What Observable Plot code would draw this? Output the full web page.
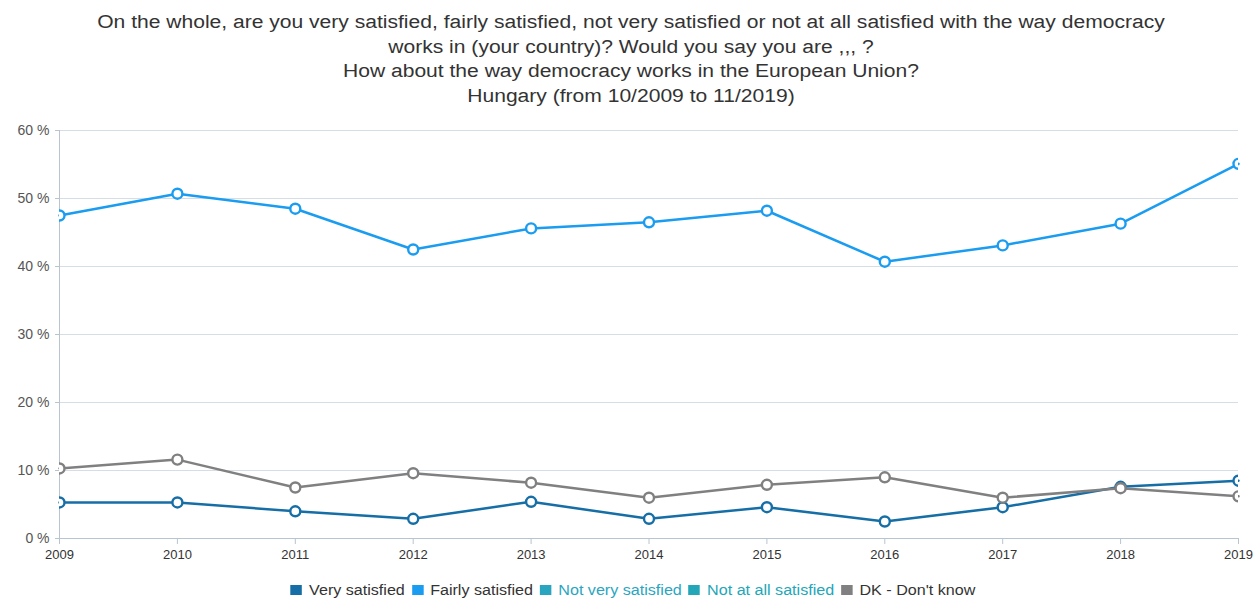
<!DOCTYPE html>
<html>
<head>
<meta charset="utf-8">
<script src="https://cdn.jsdelivr.net/npm/d3@7"></script>
<script src="https://cdn.jsdelivr.net/npm/@observablehq/plot@0.6"></script>
<style>
  html, body { margin: 0; padding: 0; background: #fff; }
  body { width: 1254px; height: 598px; overflow: hidden; font-family: "Liberation Sans", Arial, sans-serif; }
  #title { height: 112px; box-sizing: border-box; padding-top: 10px; padding-left: 12px; text-align: center; color: #333; font-size: 18px; line-height: 24.5px; }
  #title div { transform: scaleX(1.17); transform-origin: 633px 0; }
  #chart svg { display: block; }
  #legend { text-align: center; font-size: 14px; color: #333; margin-top: 10px; padding-left: 12px; white-space: nowrap; transform: scaleX(1.15); transform-origin: 633px 0; }
  #legend span.item { display: inline-block; margin: 0 3px; }
  #legend span.sw { display: inline-block; width: 10px; height: 10px; margin-right: 6px; }
</style>
</head>
<body>
<div id="title"></div>
<div id="chart"></div>
<div id="legend"></div>
<script>
const titleLines = [
  "On the whole, are you very satisfied, fairly satisfied, not very satisfied or not at all satisfied with the way democracy",
  "works in (your country)? Would you say you are ,,, ?",
  "How about the way democracy works in the European Union?",
  "Hungary (from 10/2009 to 11/2019)"
];
const years = [2009, 2010, 2011, 2012, 2013, 2014, 2015, 2016, 2017, 2018, 2019];
const verySatisfied   = [5.3, 5.3, 4.0, 2.9, 5.4, 2.9, 4.6, 2.5, 4.6, 7.6, 8.5];
const fairlySatisfied = [47.5, 50.7, 48.5, 42.5, 45.6, 46.5, 48.2, 40.7, 43.1, 46.3, 55.1];
const dontKnow        = [10.3, 11.6, 7.5, 9.6, 8.2, 6.0, 7.9, 9.0, 6.0, 7.4, 6.2];
const seriesNames  = ["Very satisfied", "Fairly satisfied", "Not very satisfied", "Not at all satisfied", "DK - Don't know"];
const seriesColors = ["#166ea6", "#1a9cf0", "#2aa5bf", "#22a6b8", "#808080"];
const legendTextColors = ["#333", "#333", "#2aa5bf", "#22a6b8", "#333"];
const yTicks = [0, 10, 20, 30, 40, 50, 60];

document.getElementById("title").innerHTML = titleLines.map(t => `<div>${t.replace(/'/g,"&#39;")}</div>`).join("");

const seriesData = [
  {name: seriesNames[0], values: verySatisfied},
  {name: seriesNames[1], values: fairlySatisfied},
  {name: seriesNames[4], values: dontKnow}
];
const rows = seriesData.flatMap(s => s.values.map((v, i) => ({series: s.name, year: years[i], value: v})));
const colorOf = Object.fromEntries(seriesNames.map((n, i) => [n, seriesColors[i]]));

const chart = Plot.plot({
  width: 1254,
  height: 460,
  marginTop: 18,
  marginBottom: 34,
  marginLeft: 59,
  marginRight: 16,
  style: {fontFamily: "'Liberation Sans', Arial, sans-serif", fontSize: "13px", color: "#555", background: "transparent"},
  x: {domain: [2009, 2019], ticks: years, tickFormat: "d"},
  y: {domain: [0, 60], ticks: yTicks, tickFormat: d => `${d} %`},
  color: {domain: seriesNames, range: seriesColors},
  marks: [
    Plot.gridY(yTicks, {stroke: "#d5dde5", strokeOpacity: 1}),
    Plot.ruleX([2009], {stroke: "#b8c4d0"}),
    Plot.ruleY([0], {stroke: "#b8c4d0"}),
    Plot.axisY({ticks: yTicks, tickSize: 4, tickPadding: 6, stroke: "#b8c4d0", fill: "#555", label: null, fontSize: 14, letterSpacing: 0.8, tickFormat: d => `${d} %`}),
    Plot.axisX({ticks: years, tickSize: 6, tickPadding: 5, stroke: "#b8c4d0", fill: "#333", label: null, fontSize: 13, tickFormat: "d"}),
    Plot.line(rows, {x: "year", y: "value", z: "series", stroke: d => colorOf[d.series], strokeWidth: 2.5}),
    Plot.dot(rows, {x: "year", y: "value", r: 5, fill: "white", stroke: d => colorOf[d.series], strokeWidth: 2.4, clip: true})
  ]
});
document.getElementById("chart").appendChild(chart);

document.getElementById("legend").innerHTML = seriesNames.map((n, i) =>
  `<span class="item" style="color:${legendTextColors[i]}"><span class="sw" style="background:${seriesColors[i]}"></span>${n}</span>`
).join("");
</script>
</body>
</html>
